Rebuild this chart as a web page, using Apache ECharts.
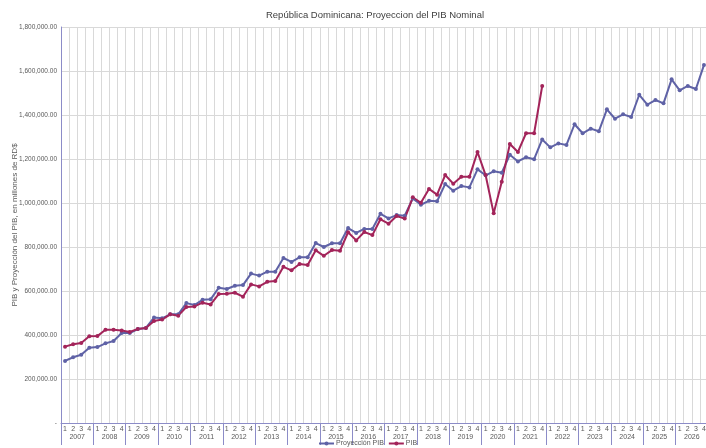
<!DOCTYPE html>
<html>
<head>
<meta charset="utf-8">
<script src="https://cdn.jsdelivr.net/npm/echarts@6/dist/echarts.min.js"></script>
<style>html,body{margin:0;padding:0;background:#fff}#c{width:706px;height:448px}</style>
</head>
<body>
<div id="c"></div>
<script>
var years = ['2007','2008','2009','2010','2011','2012','2013','2014','2015','2016','2017','2018','2019','2020','2021','2022','2023','2024','2025','2026'];
var quarterLabels = ['1','2','3','4'];
var yTicks = [0,200000,400000,600000,800000,1000000,1200000,1400000,1600000,1800000];

var proyeccionPIB = [
  282000,299000,310000,342000,
  345000,362000,373000,409000,
  409000,427000,432000,479000,
  476000,494000,494000,545000,
  536000,560000,562000,615000,
  609000,624000,627000,679000,
  670000,688000,688000,750000,
  732000,753000,753000,818000,
  800000,817000,817000,886000,
  864000,882000,882000,951000,
  930000,945000,942000,1021000,
  992000,1010000,1008000,1086000,
  1056000,1077000,1071000,1153000,
  1126000,1144000,1138000,1219000,
  1189000,1208000,1199000,1289000,
  1253000,1271000,1264000,1358000,
  1317000,1338000,1326000,1426000,
  1383000,1403000,1391000,1492000,
  1447000,1468000,1453000,1562000,
  1512000,1532000,1518000,1627000
];
var pib = [
  347000,358000,364000,394000,
  395000,424000,424000,420000,
  414000,427000,432000,464000,
  470000,494000,488000,527000,
  530000,547000,539000,586000,
  588000,592000,574000,630000,
  621000,642000,645000,710000,
  694000,723000,718000,785000,
  760000,786000,783000,867000,
  830000,868000,854000,926000,
  906000,941000,929000,1026000,
  1001000,1064000,1038000,1127000,
  1088000,1119000,1119000,1232000,
  1127000,953000,1097000,1268000,
  1232000,1317000,1317000,1532000
];

var quarters = [];
years.forEach(function(y){ quarterLabels.forEach(function(q){ quarters.push(q); }); });

var chart = echarts.init(document.getElementById('c'), null, {renderer:'canvas'});
var fontFam = "'Liberation Sans', Arial, sans-serif";
chart.setOption({
  animation:false,
  backgroundColor:'#ffffff',
  title:{
    text:'República Dominicana: Proyeccion del PIB Nominal',
    left:370, top:5, textAlign:'center',
    textStyle:{fontFamily:fontFam, fontSize:9.5, fontWeight:'normal', color:'#404040'}
  },
  legend:{
    data:['Proyección PIB','PIB'],
    bottom:1, left:318,
    itemWidth:15, itemHeight:5, itemGap:4,
    textStyle:{fontFamily:fontFam, fontSize:7, color:'#595959', padding:[0,0,0,-3]},
    padding:[0,0,0,0]
  },
  grid:{left:61, top:27, width:647, height:396, containLabel:false, outerBoundsMode:'none'},
  xAxis:[{
    type:'category', data:quarters, boundaryGap:true,
    axisLine:{show:true, lineStyle:{color:'#8c8cc8', width:1}},
    axisTick:{show:false},
    axisLabel:{interval:0, fontFamily:fontFam, fontSize:7, color:'#595959', margin:3},
    splitLine:{show:true, interval:0, lineStyle:{color:'#d9d9d9', width:1}}
  },{
    type:'category', data:years, boundaryGap:true, position:'bottom',
    axisLine:{show:false},
    axisTick:{show:true, length:22, alignWithLabel:false, lineStyle:{color:'#8c8cc8'}},
    axisLabel:{interval:0, fontFamily:fontFam, fontSize:7, color:'#595959', margin:11},
    splitLine:{show:false}
  }],
  yAxis:{
    type:'value', min:yTicks[0], max:yTicks[yTicks.length-1], interval:yTicks[1]-yTicks[0],
    name:'PIB y Proyección del PIB, en millones de RD$',
    nameLocation:'middle', nameGap:42, nameRotate:90, nameMoveOverlap:false,
    nameTextStyle:{fontFamily:fontFam, fontSize:8, color:'#595959'},
    axisLine:{show:true, lineStyle:{color:'#8c8cc8', width:1}},
    axisTick:{show:false},
    axisLabel:{fontFamily:fontFam, fontSize:6.5, color:'#595959', margin:4,
      formatter:function(v){ return v===0 ? '-' : v.toLocaleString('en-US',{minimumFractionDigits:2, maximumFractionDigits:2}); }},
    splitLine:{show:true, lineStyle:{color:'#d9d9d9', width:1}}
  },
  series:[{
    name:'Proyección PIB', type:'line', data:proyeccionPIB,
    symbol:'circle', symbolSize:4, showSymbol:true,
    lineStyle:{color:'#5f62a6', width:2}, itemStyle:{color:'#5f62a6'}
  },{
    name:'PIB', type:'line', data:pib,
    symbol:'circle', symbolSize:4, showSymbol:true,
    lineStyle:{color:'#a3245a', width:2}, itemStyle:{color:'#a3245a'}
  }]
});
</script>
</body>
</html>
